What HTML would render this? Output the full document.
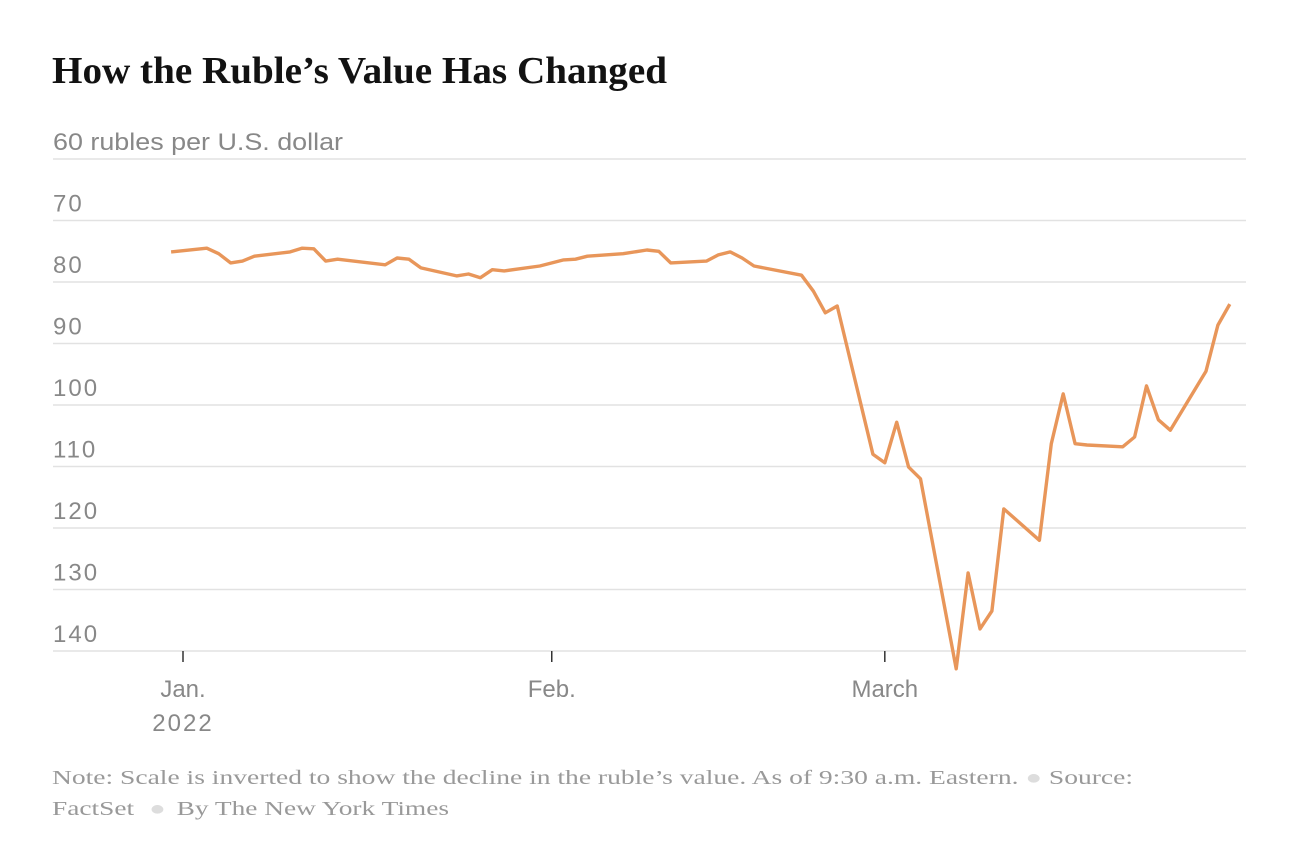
<!DOCTYPE html>
<html><head><meta charset="utf-8"><style>
body{margin:0;background:#fff;width:1304px;height:856px;overflow:hidden}
svg text{font-family:"Liberation Sans",sans-serif}
</style></head><body>
<svg width="1304" height="856">
<text x="52" y="83" textLength="615" lengthAdjust="spacingAndGlyphs" style="font-family:'Liberation Serif',serif;font-weight:bold;font-size:38px" fill="#121212">How the Ruble’s Value Has Changed</text>
<g id="grid"></g>
<g id="xaxis"></g>
<path id="line" fill="none" stroke="#e8965a" stroke-width="3.4" stroke-linejoin="round"/>
<text x="52" y="784" textLength="1081" lengthAdjust="spacingAndGlyphs" style="font-family:'Liberation Serif',serif;font-size:20px" fill="#999">Note: Scale is inverted to show the decline in the ruble’s value. As of 9:30 a.m. Eastern. <tspan fill="#ddd">●</tspan> Source:</text>
<text x="52" y="815" textLength="397" lengthAdjust="spacingAndGlyphs" style="font-family:'Liberation Serif',serif;font-size:20px" fill="#999">FactSet <tspan fill="#ddd" dx="6">●</tspan><tspan dx="8">By The New York Times</tspan></text>
</svg>
<script>
const yTicks=[60,70,80,90,100,110,120,130,140];
const xTickDays=[0,31,59];
const xTickLabels=["Jan.","Feb.","March"];
const days=[-1,2,3,4,5,6,9,10,11,12,13,17,18,19,20,23,24,25,26,27,30,32,33,34,37,39,40,41,44,45,46,47,48,52,53,54,55,58,59,60,61,62,65,66,67,68,69,72,73,74,75,76,79,80,81,82,83,86,87,88];
const values=[75.1,74.5,75.4,76.9,76.6,75.8,75.1,74.5,74.6,76.6,76.3,77.2,76.1,76.3,77.7,79.0,78.7,79.3,78.0,78.2,77.4,76.4,76.3,75.8,75.4,74.8,75.0,76.9,76.6,75.6,75.1,76.1,77.4,78.9,81.5,85.0,83.9,108.0,109.4,102.8,110.1,112.0,142.9,127.3,136.4,133.5,116.9,122.0,106.3,98.2,106.3,106.5,106.8,105.2,96.9,102.4,104.1,94.5,87.0,83.6];
const NS="http://www.w3.org/2000/svg";
const xs=d=>183+d*11.895;
const ys=v=>159+(v-60)*6.15;
const grid=document.getElementById('grid');
yTicks.forEach((t,i)=>{
  const l=document.createElementNS(NS,'line');
  l.setAttribute('x1',53);l.setAttribute('x2',1246);
  l.setAttribute('y1',ys(t));l.setAttribute('y2',ys(t));
  l.setAttribute('stroke','#e2e2e2');l.setAttribute('stroke-width','1.5');
  
  
  grid.appendChild(l);
  const tx=document.createElementNS(NS,'text');
  tx.setAttribute('x',53);tx.setAttribute('y',ys(t)-9);
  tx.setAttribute('font-size','24');tx.setAttribute('fill','#888');
  if(i===0){tx.textContent=t+' rubles per U.S. dollar';tx.setAttribute('textLength','290');tx.setAttribute('lengthAdjust','spacingAndGlyphs');}
  else{tx.textContent=String(t);tx.setAttribute('letter-spacing','2');}
  
  
  grid.appendChild(tx);
});
const xa=document.getElementById('xaxis');
xTickDays.forEach((d,i)=>{
  const l=document.createElementNS(NS,'line');
  l.setAttribute('x1',xs(d));l.setAttribute('x2',xs(d));
  l.setAttribute('y1',651);l.setAttribute('y2',662);
  l.setAttribute('stroke','#333');l.setAttribute('stroke-width','1.5');
  
  
  xa.appendChild(l);
  const tx=document.createElementNS(NS,'text');
  tx.setAttribute('x',xs(d));tx.setAttribute('y',697);
  tx.setAttribute('text-anchor','middle');
  tx.setAttribute('font-size','24');tx.setAttribute('fill','#888');
  tx.textContent=xTickLabels[i];
  
  
  xa.appendChild(tx);
});
const yr=document.createElementNS(NS,'text');
yr.setAttribute('x',xs(0));yr.setAttribute('y',731);
yr.setAttribute('text-anchor','middle');
yr.setAttribute('font-size','24');yr.setAttribute('fill','#888');
yr.setAttribute('letter-spacing','2');
yr.textContent='2022';


xa.appendChild(yr);
document.getElementById('line').setAttribute('d',days.map((d,i)=>(i?'L':'M')+xs(d).toFixed(1)+','+ys(values[i]).toFixed(1)).join(''));
</script>
</body></html>
